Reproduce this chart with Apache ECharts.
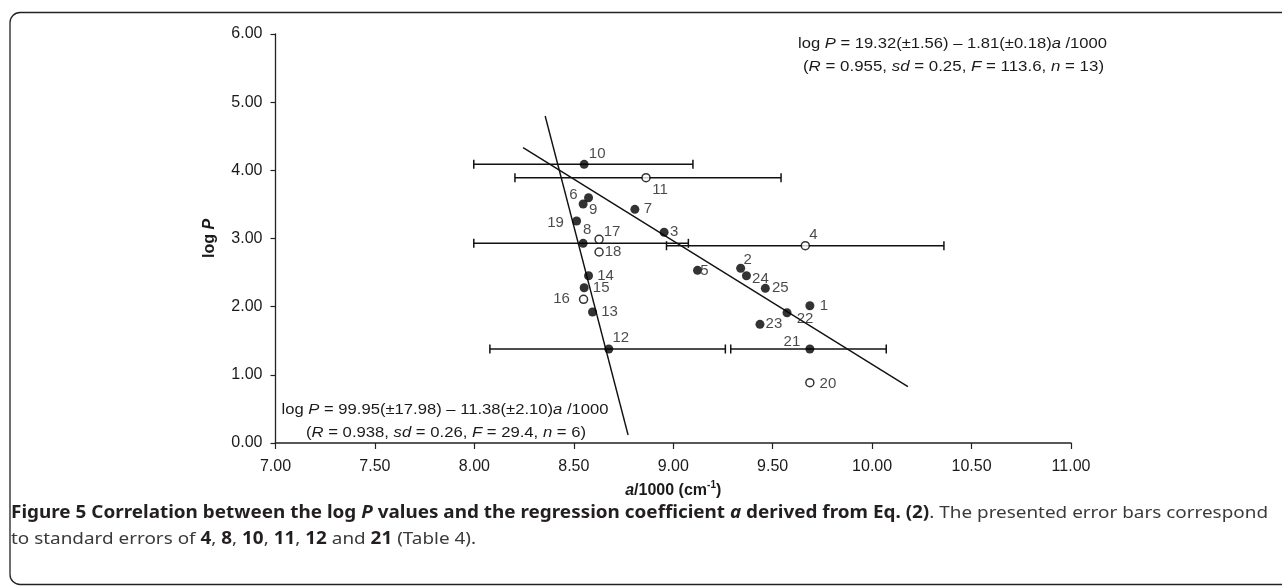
<!DOCTYPE html>
<html><head><meta charset="utf-8">
<script src="https://cdn.jsdelivr.net/npm/echarts@6/dist/echarts.min.js"></script>
<style>html,body{margin:0;padding:0;background:#fff;overflow:hidden}#c{width:1282px;height:586px}</style>
</head><body><div id="c"></div>
<script>
// ---- data ----
const compoundIds = ['1','2','3','4','5','6','7','8','9','10','11','12','13','14','15','16','17','18','19','20','21','22','23','24','25'];
const aOver1000 = [9.687,9.339,8.954,9.664,9.122,8.574,8.807,8.547,8.547,8.552,8.863,8.676,8.594,8.574,8.552,8.549,8.627,8.627,8.514,9.687,9.687,9.572,9.436,9.368,9.463];
const logPValues = [2.014,2.563,3.091,2.894,2.533,3.598,3.428,2.929,3.506,4.088,3.892,1.379,1.922,2.454,2.278,2.108,2.988,2.802,3.257,0.885,1.379,1.911,1.741,2.454,2.269];
const openMarker = ['4','11','16','17','18','20'];

const errorBarIds = ['4','8','10','11','12','21'];
const errorBarLow = [8.966,7.997,7.997,8.204,8.078,9.289];
const errorBarHigh = [10.361,9.076,9.099,9.542,9.262,10.071];

const regressionLine1 = [[8.245,4.332],[10.180,0.826]];
const regressionLine2 = [[8.356,4.797],[8.773,0.117]];

const xTicks = [7.00,7.50,8.00,8.50,9.00,9.50,10.00,10.50,11.00];
const yTicks = [0.00,1.00,2.00,3.00,4.00,5.00,6.00];

// ---- presentation (label placement, fonts) ----
const labelOffsets = {
  '1':[14,0],'2':[7,-8],'3':[10,0],'4':[8,-11],'5':[7,1],'6':[-15,-3],'7':[13,0],'8':[4,-13],
  '9':[10,6],'10':[13,-10],'11':[14,12],'12':[12,-11],'13':[17,0],'14':[17,0],'15':[17,0],
  '16':[-22,0],'17':[13,-7],'18':[14,0],'19':[-21,2],'20':[18,1],'21':[-18,-7],'22':[18,6],
  '23':[14,0],'24':[14,3],'25':[15,0]
};
const FONT = "'Liberation Sans', Arial, sans-serif";
const CAPFONT = "'Noto Sans', 'Open Sans', sans-serif";
const INK = '#1a1a1a';

function item(i){
  return {value:[aOver1000[i], logPValues[i]], name: compoundIds[i],
          label:{offset: labelOffsets[compoundIds[i]]}};
}
const filledData = [], openData = [];
compoundIds.forEach((id,i)=>{ (openMarker.includes(id)?openData:filledData).push(item(i)); });
const errData = errorBarIds.map((id,k)=>{
  const i = compoundIds.indexOf(id);
  return [errorBarLow[k], errorBarHigh[k], logPValues[i]];
});

// text measuring for horizontal fitting
const mctx = document.createElement('canvas').getContext('2d');
function measure(parts){ let w=0; parts.forEach(p=>{ mctx.font=p[1]; w+=mctx.measureText(p[0]).width; }); return w; }

const EQ = 15;
const eqN = EQ+'px '+FONT, eqI = 'italic '+EQ+'px '+FONT;
const eqRich = {n:{fontFamily:FONT,fontSize:EQ,fill:INK,color:INK}, i:{fontFamily:FONT,fontSize:EQ,fontStyle:'italic',fill:INK,color:INK}};
function eqText(parts){ return parts.map(p=>'{'+(p[1]===eqI?'i':'n')+'|'+p[0]+'}').join(''); }
const eq1a = [['log ',eqN],['P',eqI],[' = 19.32(±1.56) – 1.81(±0.18)',eqN],['a',eqI],[' /1000',eqN]];
const eq1b = [['(',eqN],['R',eqI],[' = 0.955, ',eqN],['sd',eqI],[' = 0.25, ',eqN],['F',eqI],[' = 113.6, ',eqN],['n',eqI],[' = 13)',eqN]];
const eq2a = [['log ',eqN],['P',eqI],[' = 99.95(±17.98) – 11.38(±2.10)',eqN],['a',eqI],[' /1000',eqN]];
const eq2b = [['(',eqN],['R',eqI],[' = 0.938, ',eqN],['sd',eqI],[' = 0.26, ',eqN],['F',eqI],[' = 29.4, ',eqN],['n',eqI],[' = 6)',eqN]];

function eqGraphic(parts, cx, cy, targetW){
  return {type:'text', x:cx, y:cy, scaleX: targetW/measure(parts),
    style:{text:eqText(parts), rich:eqRich, x:0, y:0, align:'center', verticalAlign:'middle',
           font:eqN, fill:INK}};
}

const CS = 17;
const cB = 'bold '+CS+'px '+CAPFONT, cBI = 'bold italic '+CS+'px '+CAPFONT, cR = CS+'px '+CAPFONT;
const capRich = {
  b:{fontFamily:CAPFONT,fontSize:CS,fontWeight:'bold',fill:'#231f20'},
  bi:{fontFamily:CAPFONT,fontSize:CS,fontWeight:'bold',fontStyle:'italic',fill:'#231f20'},
  r:{fontFamily:CAPFONT,fontSize:CS,fill:'#3a3a3a'}
};
const keyOf = f => f===cB?'b':(f===cBI?'bi':'r');
function capText(parts){ return parts.map(p=>'{'+keyOf(p[1])+'|'+p[0]+'}').join(''); }
const cap1 = [['Figure 5 Correlation between the log ',cB],['P',cBI],[' values and the regression coefficient ',cB],['a',cBI],[' derived from Eq. (2)',cB],['. The presented error bars correspond',cR]];
const cap2 = [['to standard errors of ',cR],['4',cB],[', ',cR],['8',cB],[', ',cR],['10',cB],[', ',cR],['11',cB],[', ',cR],['12',cB],[' and ',cR],['21',cB],[' (Table 4).',cR]];
const capScale = 1257/measure(cap1);

const chart = echarts.init(document.getElementById('c'), null, {renderer:'canvas'});
chart.setOption({
  animation:false,
  backgroundColor:'#fff',
  grid:{left:275.5, right:211, top:34, bottom:143, containLabel:false},
  xAxis:{type:'value', min:xTicks[0], max:xTicks[xTicks.length-1], interval:0.5,
    name:'{bi|a}{b|/1000 (cm}{sup|-1}{b|)}', nameLocation:'middle', nameGap:37,
    nameTextStyle:{rich:{
      bi:{fontFamily:FONT,fontSize:16,fontWeight:'bold',fontStyle:'italic',color:INK},
      b:{fontFamily:FONT,fontSize:16,fontWeight:'bold',color:INK},
      sup:{fontFamily:FONT,fontSize:10,fontWeight:'bold',color:INK,verticalAlign:'top',lineHeight:22}}},
    axisLine:{lineStyle:{color:'#222',width:1.5}},
    axisTick:{length:6,lineStyle:{color:'#222',width:1.2}},
    axisLabel:{fontFamily:FONT,fontSize:16,color:INK,margin:16,formatter:v=>v.toFixed(2)},
    splitLine:{show:false}},
  yAxis:{type:'value', min:yTicks[0], max:yTicks[yTicks.length-1], interval:1,
    name:'{b|log }{bi|P}', nameLocation:'middle', nameGap:58, nameRotate:90,
    nameTextStyle:{rich:{
      bi:{fontFamily:FONT,fontSize:16,fontWeight:'bold',fontStyle:'italic',color:INK},
      b:{fontFamily:FONT,fontSize:16,fontWeight:'bold',color:INK}}},
    axisLine:{show:true,lineStyle:{color:'#222',width:1.3}},
    axisTick:{show:true,length:5,lineStyle:{color:'#222',width:1.2}},
    axisLabel:{fontFamily:FONT,fontSize:16,color:INK,margin:13,formatter:v=>v.toFixed(2)},
    splitLine:{show:false}},
  series:[
    {type:'line', data:regressionLine1, symbol:'none', lineStyle:{color:'#111',width:1.4}, z:1, silent:true},
    {type:'line', data:regressionLine2, symbol:'none', lineStyle:{color:'#111',width:1.4}, z:1, silent:true},
    {type:'custom', data:errData, z:2, silent:true,
      renderItem:(params,api)=>{
        const p1 = api.coord([api.value(0), api.value(2)]);
        const p2 = api.coord([api.value(1), api.value(2)]);
        const st = {stroke:'#111', lineWidth:1.5};
        return {type:'group', children:[
          {type:'line', shape:{x1:p1[0],y1:p1[1],x2:p2[0],y2:p2[1]}, style:st},
          {type:'line', shape:{x1:p1[0],y1:p1[1]-4.5,x2:p1[0],y2:p1[1]+4.5}, style:st},
          {type:'line', shape:{x1:p2[0],y1:p2[1]-4.5,x2:p2[0],y2:p2[1]+4.5}, style:st}
        ]};
      }},
    {type:'scatter', data:filledData, symbol:'circle', symbolSize:9, z:3,
      itemStyle:{color:'#000'},
      label:{show:true, position:'inside', formatter:'{b}', fontFamily:FONT, fontSize:15, color:INK}},
    {type:'scatter', data:openData, symbol:'circle', symbolSize:8, z:3,
      itemStyle:{color:'#fff', borderColor:'#000', borderWidth:1.5},
      label:{show:true, position:'inside', formatter:'{b}', fontFamily:FONT, fontSize:15, color:INK}}
  ],
  graphic:[
    {type:'rect', shape:{x:10,y:12.5,width:1600,height:572,r:10}, style:{fill:null, stroke:'#222', lineWidth:1.3}, silent:true},
    eqGraphic(eq1a, 952.5, 43.5, 309),
    eqGraphic(eq1b, 953.5, 67, 301),
    eqGraphic(eq2a, 445, 410, 327),
    eqGraphic(eq2b, 446, 433, 280),
    {type:'text', x:11, y:513, scaleX:capScale,
      style:{text:capText(cap1), rich:capRich, x:0, y:0, align:'left', verticalAlign:'middle', font:cR}},
    {type:'text', x:11, y:539, scaleX:capScale,
      style:{text:capText(cap2), rich:capRich, x:0, y:0, align:'left', verticalAlign:'middle', font:cR}}
  ]
});
</script>
</body></html>
